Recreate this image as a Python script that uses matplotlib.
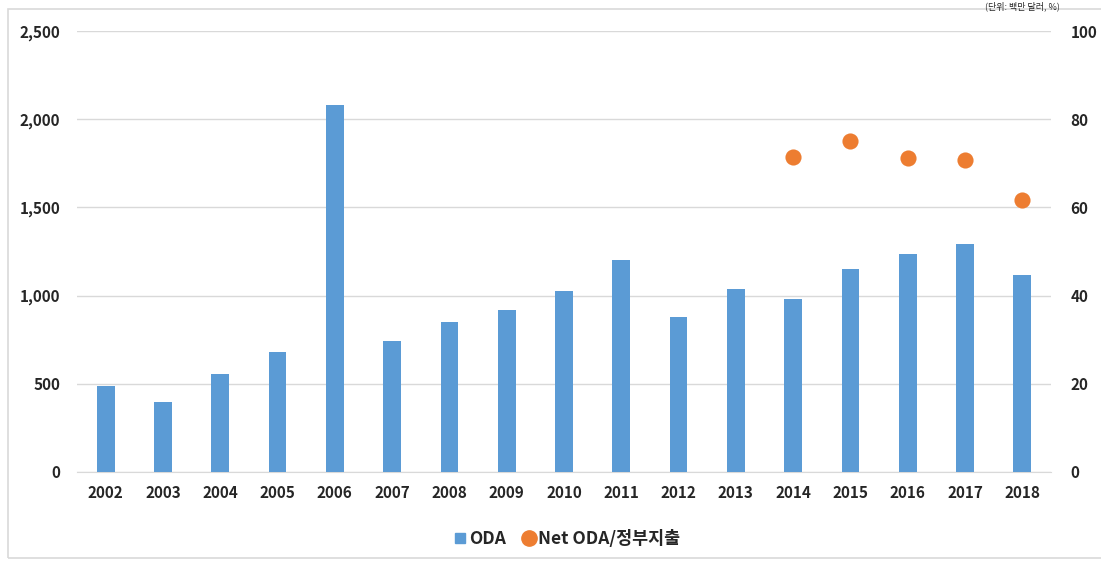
import matplotlib
matplotlib.use("Agg")
import matplotlib.pyplot as plt
from matplotlib.patches import Rectangle
from matplotlib.lines import Line2D

plt.rcParams['font.family'] = ['Noto Sans CJK KR', 'DejaVu Sans']

years = ['2002', '2003', '2004', '2005', '2006', '2007', '2008', '2009', '2010',
         '2011', '2012', '2013', '2014', '2015', '2016', '2017', '2018']
oda = [487, 397, 556, 680, 2081, 743, 850, 918, 1026, 1202, 879, 1037, 981, 1151, 1236, 1293, 1117]
ratio_years = ['2014', '2015', '2016', '2017', '2018']
ratio = [71.4, 75.1, 71.2, 70.7, 61.7]
left_ticks = [0, 500, 1000, 1500, 2000, 2500]
right_ticks = [0, 20, 40, 60, 80, 100]

W, H = 1101, 562
fig = plt.figure(figsize=(W / 100, H / 100), dpi=100)
ax = fig.add_axes([77 / W, 1 - 472 / H, (1051 - 77) / W, (472 - 31) / H])
ax2 = ax.twinx()

x = list(range(len(years)))
ax.bar(x, oda, width=0.31, color='#5B9BD5', zorder=3)
ax.set_xlim(-0.5, len(years) - 0.5)
ax.set_ylim(0, 2500)
ax.set_yticks(left_ticks)
ax.set_yticklabels([f'{v:,}' for v in left_ticks])
ax.set_xticks(x)
ax.set_xticklabels(years)
ax.grid(axis='y', color='#D9D9D9', linewidth=1, zorder=0)
ax.set_axisbelow(True)

rx = [years.index(y) for y in ratio_years]
ax2.scatter(rx, ratio, s=135, color='#ED7D31', zorder=4, linewidths=0)
ax2.set_ylim(0, 100)
ax2.set_yticks(right_ticks)

for a in (ax, ax2):
    for s in a.spines.values():
        s.set_visible(False)
    a.tick_params(length=0, labelsize=11, colors='#262626')
    for lab in a.get_xticklabels() + a.get_yticklabels():
        lab.set_fontweight('bold')
ax.spines['bottom'].set_visible(True)
ax.spines['bottom'].set_color('#D9D9D9')
ax.tick_params(axis='y', pad=12)
ax.tick_params(axis='x', pad=9)
ax2.tick_params(axis='y', pad=14)

handles = [
    Line2D([], [], marker='s', linestyle='none', markersize=7, color='#5B9BD5'),
    Line2D([], [], marker='o', linestyle='none', markersize=11, color='#ED7D31'),
]
leg = fig.legend(handles, ['ODA', 'Net ODA/정부지출'], loc='center',
                 bbox_to_anchor=(566 / W, 1 - 539 / H), ncol=2, frameon=False,
                 handletextpad=0.05, columnspacing=0.9, handlelength=0.9,
                 prop={'size': 12.5, 'weight': 'bold'})
for t in leg.get_texts():
    t.set_color('#262626')

fig.patches.append(Rectangle((8 / W, 1 - 558 / H), (W + 10 - 8) / W, (558 - 9) / H,
                             transform=fig.transFigure, fill=False,
                             edgecolor='#D9D9D9', linewidth=1.2, zorder=0))
fig.text(1060 / W, 1 - 1 / H, '(단위: 백만 달러, %)', ha='right', va='top',
         fontsize=6.5, color='#262626')

fig.savefig('out.png', dpi=100)
